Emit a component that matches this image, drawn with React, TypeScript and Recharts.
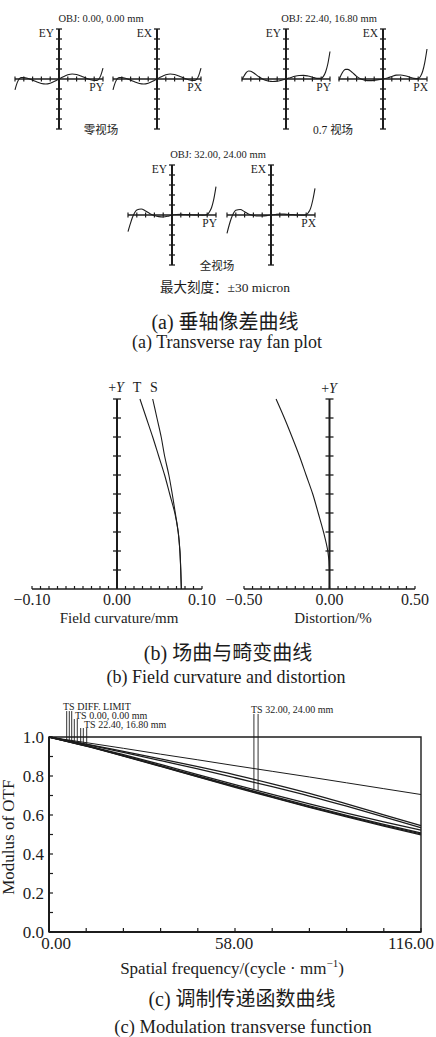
import React from "react";
import {
  LineChart,
  Line,
  XAxis,
  YAxis,
  ReferenceLine,
  ReferenceDot,
  ReferenceArea,
} from "recharts";

const SERIF = '"Liberation Serif", "Times New Roman", "Noto Sans CJK SC", serif';
const INK = "#1c1c1c";

// ---- (a) transverse ray fans ----
const pupil = [-1, -0.95, -0.9, -0.85, -0.8, -0.7, -0.6, -0.5, -0.4, -0.3, -0.2, -0.1, 0, 0.1, 0.2, 0.3, 0.4, 0.5, 0.6, 0.7, 0.8, 0.85, 0.9, 0.95, 1];
const fanYTicks = [-30, -24, -18, -12, -6, 6, 12, 18, 24, 30];
const fanXTicks = [-1, -0.8, -0.6, -0.4, -0.2, 0.2, 0.4, 0.6, 0.8, 1];

const eyZero = [-6.5, -2.2, 0.2, 0.9, 0.9, 0.3, -0.7, -1.8, -2.7, -3.0, -2.5, -1.4, 0, 1.4, 2.5, 3.0, 2.7, 1.8, 0.7, -0.3, -0.9, -0.9, -0.2, 2.2, 6.5];
const exZero = [-6.5, -2.2, 0.2, 0.9, 0.9, 0.3, -0.7, -1.8, -2.7, -3.0, -2.5, -1.4, 0, 1.4, 2.5, 3.0, 2.7, 1.8, 0.7, -0.3, -0.9, -0.9, -0.2, 2.2, 6.5];
const eyMid = [-0.3, 2.0, 4.0, 4.8, 4.6, 3.0, 1.0, -0.4, -1.2, -1.5, -1.3, -0.7, 0, 0.8, 1.6, 2.1, 2.2, 1.8, 1.1, 0.4, 0.4, 1.6, 4.2, 9.0, 16.5];
const exMid = [-0.6, 2.5, 4.8, 5.8, 5.8, 4.0, 1.6, 0.0, -0.8, -1.0, -0.8, -0.4, 0, 0.6, 1.5, 2.3, 2.4, 2.0, 1.2, 0.4, 0.2, 1.5, 4.5, 10.0, 18.0];
const eyFull = [-10.0, -5.5, -1.5, 1.4, 3.0, 3.6, 2.4, 0.8, -0.3, -1.0, -1.2, -0.8, 0, 0.3, 0.4, 0.3, 0.2, 0.1, 0.0, -0.1, 0.3, 1.8, 4.5, 9.5, 17.0];
const exFull = [-11.0, -6.0, -1.8, 1.2, 2.8, 3.3, 2.0, 0.5, -0.2, -0.6, -0.6, -0.4, 0, 0.3, 0.5, 0.5, 0.3, 0.2, 0.0, -0.1, 0.2, 1.5, 4.0, 9.0, 16.0];

// ---- (b) field curvature and distortion ----
const fieldY = [0, 0.1, 0.2, 0.3, 0.4, 0.5, 0.6, 0.7, 0.8, 0.9, 1];
const curveT = [0.0757, 0.075, 0.074, 0.072, 0.068, 0.062, 0.056, 0.049, 0.042, 0.0345, 0.027];
const curveS = [0.0757, 0.075, 0.074, 0.072, 0.0686, 0.065, 0.061, 0.056, 0.052, 0.047, 0.042];
const distortion = [0, 0, -0.01, -0.035, -0.066, -0.098, -0.137, -0.176, -0.219, -0.264, -0.3125];
const fieldTicks = [0.1, 0.2, 0.3, 0.4, 0.5, 0.6, 0.7, 0.8, 0.9, 1];
const fcTicks = [-0.1, -0.09, -0.08, -0.07, -0.06, -0.05, -0.04, -0.03, -0.02, -0.01, 0, 0.01, 0.02, 0.03, 0.04, 0.05, 0.06, 0.07, 0.08, 0.09, 0.1];
const fcLabels = [-0.1, 0, 0.1];
const distTicks = [-0.5, -0.45, -0.4, -0.35, -0.3, -0.25, -0.2, -0.15, -0.1, -0.05, 0, 0.05, 0.1, 0.15, 0.2, 0.25, 0.3, 0.35, 0.4, 0.45, 0.5];
const distLabels = [-0.5, 0, 0.5];

// ---- (c) MTF ----
const freq = [0, 11.6, 23.2, 34.8, 46.4, 58, 69.6, 81.2, 92.8, 104.4, 116];
const diffLimit = [1, 0.971, 0.942, 0.912, 0.883, 0.853, 0.824, 0.795, 0.765, 0.735, 0.705];
const field0T = [1, 0.964, 0.926, 0.888, 0.848, 0.806, 0.76, 0.711, 0.657, 0.601, 0.545];
const field0S = [1, 0.962, 0.921, 0.879, 0.836, 0.791, 0.745, 0.697, 0.645, 0.591, 0.535];
const field07T = [1, 0.957, 0.909, 0.859, 0.807, 0.756, 0.706, 0.657, 0.61, 0.565, 0.522];
const field07S = [1, 0.955, 0.905, 0.853, 0.8, 0.748, 0.697, 0.647, 0.598, 0.552, 0.508];
const field1T = [1, 0.953, 0.902, 0.849, 0.795, 0.742, 0.69, 0.639, 0.59, 0.543, 0.498];
const field1S = [1, 0.954, 0.903, 0.851, 0.797, 0.745, 0.693, 0.642, 0.594, 0.547, 0.503];
const mtfXTicks = [0, 11.6, 23.2, 34.8, 46.4, 58, 69.6, 81.2, 92.8, 104.4, 116];
const mtfXLabels = [0, 58, 116];
const mtfYTicks = [0, 0.1, 0.2, 0.3, 0.4, 0.5, 0.6, 0.7, 0.8, 0.9, 1];
const mtfYLabels = [0, 0.2, 0.4, 0.6, 0.8, 1];
// leader lines of the series labels
const leaderFreq = [5.52, 6.33, 7.08, 7.89, 8.82, 9.88, 10.7, 11.76, 63.9, 65.2];
const leaderTop = [1.133, 1.133, 1.133, 1.092, 1.092, 1.046, 1.046, 1.046, 1.118, 1.118];
const leaderBottom = [0.983, 0.98, 0.977, 0.975, 0.972, 0.968, 0.966, 0.962, 0.732, 0.724];

const near = (a: number, list: number[]) => list.some((b) => Math.abs(a - b) < 1e-9);

function Txt({ x, y, size, anchor = "middle", children, style }: any) {
  const w = 440;
  const left = anchor === "middle" ? x - w / 2 : anchor === "end" ? x - w : x;
  return (
    <div
      style={{
        position: "absolute",
        left,
        top: y - size * 0.6,
        width: w,
        height: size * 1.2,
        lineHeight: `${size * 1.2}px`,
        fontSize: size,
        textAlign: anchor === "middle" ? "center" : anchor === "end" ? "right" : "left",
        fontFamily: SERIF,
        color: INK,
        whiteSpace: "nowrap",
        ...style,
      }}
    >
      {children}
    </div>
  );
}

const hTick = (half: number, w: number) => (p: any) => (
  <line x1={p.cx - half} x2={p.cx + half} y1={p.cy} y2={p.cy} stroke={INK} strokeWidth={w} />
);
const vTick = (half: number, w: number) => (p: any) => (
  <line x1={p.cx} x2={p.cx} y1={p.cy - half} y2={p.cy + half} stroke={INK} strokeWidth={w} />
);

function FanPlot({ cx, cy, values, yLabel, xLabel }: any) {
  const hw = 44;
  const hh = 50;
  const m = 6;
  const data = pupil.map((p, i) => ({ p, e: values[i] }));
  return (
    <div style={{ position: "absolute", left: cx - hw - m, top: cy - hh - m }}>
      <LineChart width={2 * hw + 2 * m} height={2 * hh + 2 * m} data={data} margin={{ top: m, right: m, bottom: m, left: m }}>
        <XAxis type="number" dataKey="p" domain={[-1, 1]} hide />
        <YAxis type="number" domain={[-30, 30]} hide />
        <ReferenceLine x={0} stroke={INK} strokeWidth={2} />
        <ReferenceLine y={0} stroke={INK} strokeWidth={1.3} />
        {fanYTicks.map((v) => (
          <ReferenceDot key={"y" + v} x={0} y={v} ifOverflow="visible" shape={hTick(3, 1.3)} />
        ))}
        {fanXTicks.map((v) => (
          <ReferenceDot key={"x" + v} x={v} y={0} ifOverflow="visible" shape={vTick(2.5, 1.2)} />
        ))}
        <Line type="monotone" dataKey="e" stroke={INK} strokeWidth={1.1} dot={false} isAnimationActive={false} />
      </LineChart>
      <Txt x={hw + m - 5} y={m + 5} size={11.5} anchor="end">{yLabel}</Txt>
      <Txt x={2 * hw + m + 1} y={hh + m + 9} size={11.5} anchor="end">{xLabel}</Txt>
    </div>
  );
}

function AxisTick({ labels, fmt, size, dy, up, offsets }: any) {
  return (p: any) => {
    const v = p.payload.value;
    const idx = labels.findIndex((b: number) => Math.abs(v - b) < 1e-9);
    const dx = idx >= 0 && offsets ? offsets[idx] : 0;
    return (
      <g>
        <line x1={p.x} x2={p.x} y1={p.y} y2={p.y - up} stroke={INK} strokeWidth={1.2} />
        {idx >= 0 && (
          <text x={p.x + dx} y={p.y + dy} textAnchor="middle" fontSize={size} fontFamily={SERIF} fill={INK}>
            {fmt(v)}
          </text>
        )}
      </g>
    );
  };
}

const signed = (v: number) => (v < 0 ? "\u2212" + Math.abs(v).toFixed(2) : v.toFixed(2));

function VerticalPlot({ left, width, series, domain, ticks, labels }: any) {
  const data = fieldY.map((f, i) => {
    const row: any = { f };
    series.forEach((s: any) => (row[s.key] = s.values[i]));
    return row;
  });
  return (
    <div style={{ position: "absolute", left, top: 389 }}>
      <LineChart layout="vertical" width={width} height={230} data={data} margin={{ top: 10, right: 20, left: 30, bottom: 0 }}>
        <XAxis
          type="number"
          domain={domain}
          ticks={ticks}
          interval={0}
          height={30}
          tickSize={0}
          tickMargin={0}
          tickLine={false}
          axisLine={{ stroke: INK, strokeWidth: 1.4 }}
          tick={AxisTick({ labels, fmt: signed, size: 16, dy: 16, up: 3 })}
        />
        <YAxis type="number" dataKey="f" domain={[0, 1]} reversed hide />
        <ReferenceLine segment={[{ x: 0, y: 0 }, { x: 0, y: 1 }]} stroke={INK} strokeWidth={2} ifOverflow="visible" />
        {fieldTicks.map((v) => (
          <ReferenceDot key={v} x={0} y={v} ifOverflow="visible" shape={hTick(4, 1.3)} />
        ))}
        {series.map((s: any) => (
          <Line key={s.key} type="monotone" dataKey={s.key} stroke={INK} strokeWidth={1.1} dot={false} isAnimationActive={false} />
        ))}
      </LineChart>
    </div>
  );
}

function MtfPlot() {
  const data = freq.map((f, i) => ({
    f,
    diff: diffLimit[i],
    t0: field0T[i],
    s0: field0S[i],
    t07: field07T[i],
    s07: field07S[i],
    t1: field1T[i],
    s1: field1S[i],
  }));
  const keys = ["t0", "s0", "t07", "s07", "t1", "s1"];
  const yTick = (p: any) => {
    const v = p.payload.value;
    return (
      <g>
        <line x1={p.x} x2={p.x + 4} y1={p.y} y2={p.y} stroke={INK} strokeWidth={1.2} />
        {near(v, mtfYLabels) && (
          <text x={p.x - 5} y={p.y} dy="0.36em" textAnchor="end" fontSize={17} fontFamily={SERIF} fill={INK}>
            {v.toFixed(1)}
          </text>
        )}
      </g>
    );
  };
  return (
    <div style={{ position: "absolute", left: 0, top: 690 }}>
      <LineChart width={436} height={282} data={data} margin={{ top: 47, right: 15, left: 0, bottom: 0 }}>
        <XAxis
          type="number"
          dataKey="f"
          domain={[0, 116]}
          ticks={mtfXTicks}
          interval={0}
          height={40}
          tickSize={0}
          tickMargin={0}
          tickLine={false}
          axisLine={{ stroke: INK, strokeWidth: 2 }}
          tick={AxisTick({ labels: mtfXLabels, fmt: (v: number) => v.toFixed(2), size: 17, dy: 17, up: 4, offsets: [7, -1, -10] })}
        />
        <YAxis
          type="number"
          domain={[0, 1]}
          ticks={mtfYTicks}
          interval={0}
          width={49}
          tickSize={0}
          tickMargin={0}
          tickLine={false}
          axisLine={{ stroke: INK, strokeWidth: 2 }}
          tick={yTick}
        />
        <ReferenceArea x1={0} x2={116} y1={0} y2={1} fill="none" stroke={INK} strokeWidth={1.4} ifOverflow="visible" />
        {leaderFreq.map((f, i) => (
          <ReferenceLine
            key={"l" + i}
            segment={[{ x: f, y: leaderBottom[i] }, { x: f, y: leaderTop[i] }]}
            stroke={INK}
            strokeWidth={0.9}
            ifOverflow="visible"
          />
        ))}
        <Line type="linear" dataKey="diff" stroke={INK} strokeWidth={1} dot={false} isAnimationActive={false} />
        {keys.map((k) => (
          <Line key={k} type="monotone" dataKey={k} stroke={INK} strokeWidth={1.3} dot={false} isAnimationActive={false} />
        ))}
      </LineChart>
    </div>
  );
}

export default function App() {
  return (
    <div
      style={{
        position: "absolute",
        left: 0,
        top: 0,
        width: 436,
        height: 1037,
        background: "#fff",
        overflow: "hidden",
        fontFamily: SERIF,
      }}
    >
      {/* (a) ray fans */}
      <Txt x={101} y={19} size={10.5}>OBJ: 0.00, 0.00 mm</Txt>
      <Txt x={329} y={19} size={10.5}>OBJ: 22.40, 16.80 mm</Txt>
      <Txt x={218} y={155} size={10.5}>OBJ: 32.00, 24.00 mm</Txt>
      <FanPlot cx={59} cy={79} values={eyZero} yLabel="EY" xLabel="PY" />
      <FanPlot cx={157} cy={79} values={exZero} yLabel="EX" xLabel="PX" />
      <FanPlot cx={286} cy={79} values={eyMid} yLabel="EY" xLabel="PY" />
      <FanPlot cx={383} cy={79} values={exMid} yLabel="EX" xLabel="PX" />
      <FanPlot cx={172} cy={215} values={eyFull} yLabel="EY" xLabel="PY" />
      <FanPlot cx={271} cy={215} values={exFull} yLabel="EX" xLabel="PX" />
      <Txt x={101} y={131} size={11.5}>零视场</Txt>
      <Txt x={333} y={131} size={11.5}>0.7 视场</Txt>
      <Txt x={217} y={267} size={11.5}>全视场</Txt>
      <Txt x={225} y={288} size={13.5}>最大刻度：±30 micron</Txt>
      <Txt x={225} y={322} size={20}>(a) 垂轴像差曲线</Txt>
      <Txt x={227} y={343} size={18}>(a) Transverse ray fan plot</Txt>

      {/* (b) field curvature / distortion */}
      <VerticalPlot
        left={2}
        width={220}
        domain={[-0.1, 0.1]}
        ticks={fcTicks}
        labels={fcLabels}
        series={[
          { key: "t", values: curveT },
          { key: "s", values: curveS },
        ]}
      />
      <VerticalPlot
        left={214}
        width={221}
        domain={[-0.5, 0.5]}
        ticks={distTicks}
        labels={distLabels}
        series={[{ key: "d", values: distortion }]}
      />
      <Txt x={116} y={388} size={14}>+<i>Y</i></Txt>
      <Txt x={137} y={388} size={14}>T</Txt>
      <Txt x={154} y={388} size={14}>S</Txt>
      <Txt x={329} y={389} size={14}>+<i>Y</i></Txt>
      <Txt x={119} y={618} size={15}>Field curvature/mm</Txt>
      <Txt x={333} y={618} size={15}>Distortion/%</Txt>
      <Txt x={228} y={653} size={20}>(b) 场曲与畸变曲线</Txt>
      <Txt x={226} y={678} size={18}>(b) Field curvature and distortion</Txt>

      {/* (c) MTF */}
      <MtfPlot />
      <Txt x={63} y={707} size={10} anchor="start">TS DIFF. LIMIT</Txt>
      <Txt x={75} y={716} size={10} anchor="start">TS 0.00, 0.00 mm</Txt>
      <Txt x={84} y={725} size={10} anchor="start">TS 22.40, 16.80 mm</Txt>
      <Txt x={251} y={710} size={10} anchor="start">TS 32.00, 24.00 mm</Txt>
      <Txt x={9} y={837} size={17} style={{ transform: "rotate(-90deg)" }}>Modulus of OTF</Txt>
      <Txt x={232} y={963} size={17}>
        Spatial frequency/(cycle · mm<sup style={{ fontSize: 11 }}>−1</sup>)
      </Txt>
      <Txt x={242} y={999} size={20}>(c) 调制传递函数曲线</Txt>
      <Txt x={243} y={1027} size={18.5}>(c) Modulation transverse function</Txt>
    </div>
  );
}
